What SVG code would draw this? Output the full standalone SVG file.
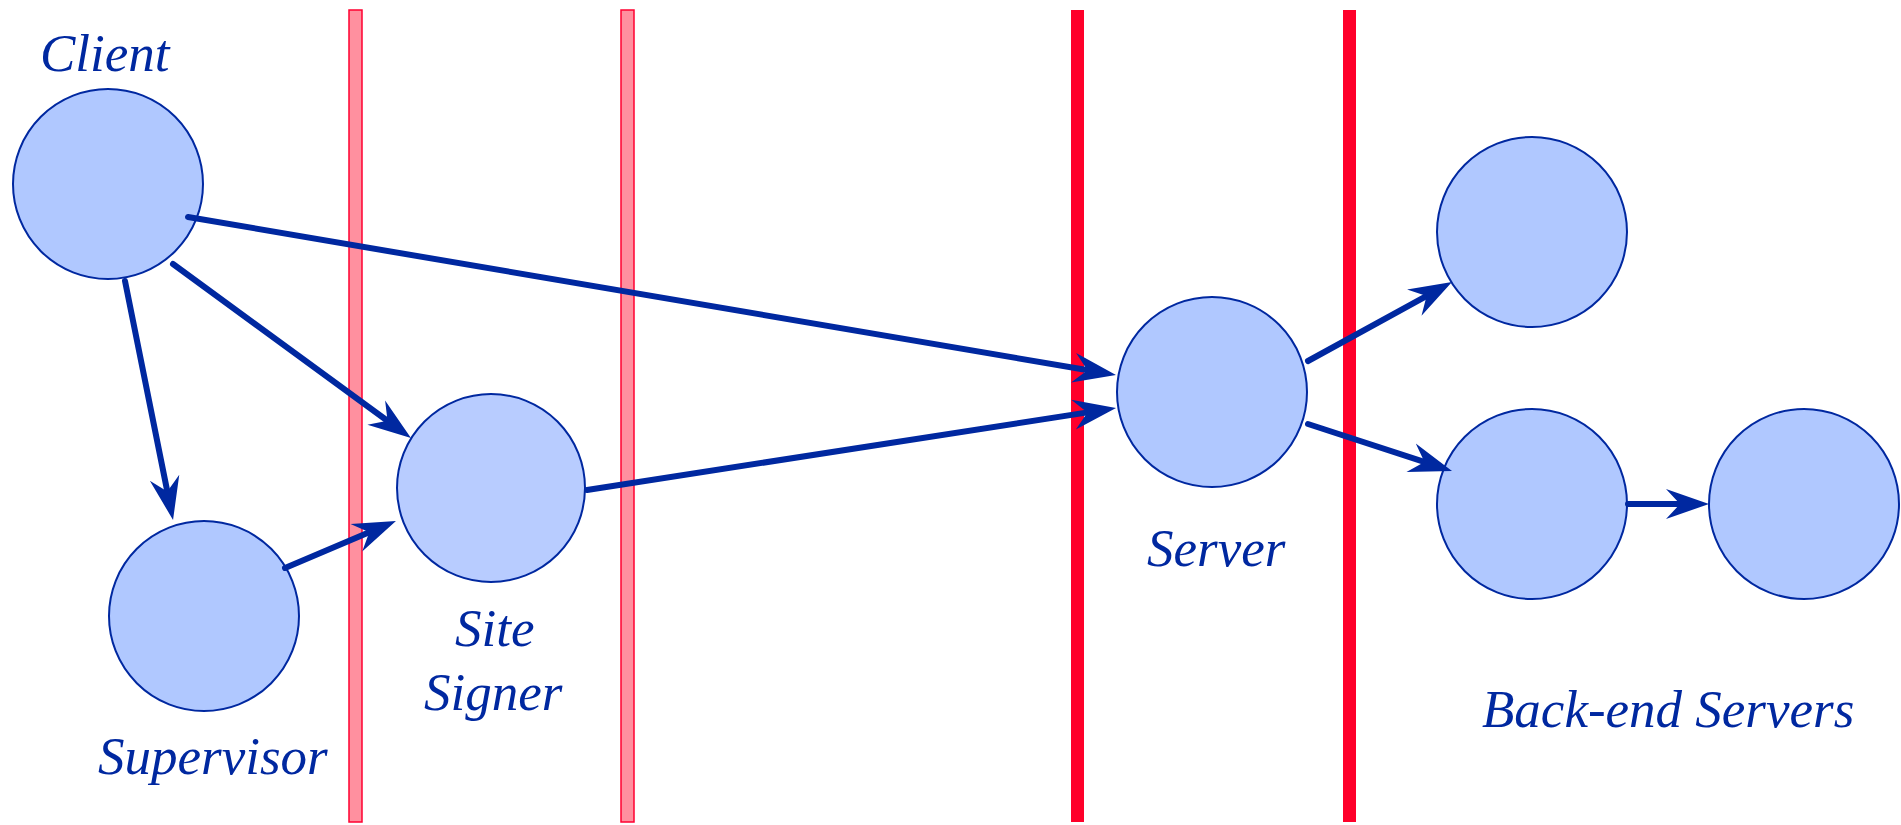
<svg xmlns="http://www.w3.org/2000/svg" width="1901" height="825" viewBox="0 0 1901 825">
<style>
.bar{fill:#ff909f;stroke:#ff0030;stroke-width:1.5}
.wall{fill:#ff002a}
.node{fill:#b0c8ff;stroke:#0028a0;stroke-width:2}
.lbl{font-family:"Liberation Serif","Times New Roman",serif;font-style:italic;font-size:53px;fill:#0028a0}
.edge{stroke:#0028a0;stroke-width:6;fill:none;stroke-linecap:round;marker-end:url(#ah)}
</style>
<defs>
<marker id="ah" markerUnits="userSpaceOnUse" markerWidth="50" markerHeight="32" refX="21" refY="15" orient="auto" overflow="visible">
<path d="M43,15 L0,0 L14,15 L0,30 Z" fill="#0028a0"/>
</marker>
</defs>
<rect width="1901" height="825" fill="#ffffff"/>
<g id="barriers">
<rect class="bar" x="349" y="10" width="13" height="812"/>
<rect class="bar" x="621" y="10" width="13" height="812"/>
<rect class="wall" x="1071" y="10" width="13" height="812"/>
<rect class="wall" x="1343" y="10" width="13" height="812"/>
</g>
<g id="client"><circle class="node" cx="108" cy="184" r="95"/><text class="lbl" x="40" y="71">Client</text></g>
<g id="supervisor"><circle class="node" cx="204" cy="616" r="95"/><text class="lbl" x="98" y="774">Supervisor</text></g>
<g id="sitesigner"><circle class="node" cx="491" cy="488" r="94" style="fill:#b8ccff"/><text class="lbl" x="455" y="646">Site</text><text class="lbl" x="424" y="710">Signer</text></g>
<g id="server"><circle class="node" cx="1212" cy="392" r="95"/><text class="lbl" x="1147" y="566">Server</text></g>
<g id="backend1"><circle class="node" cx="1532" cy="232" r="95"/></g>
<g id="backend2"><circle class="node" cx="1532" cy="504" r="95"/></g>
<g id="backend3"><circle class="node" cx="1804" cy="504" r="95"/><text class="lbl" x="1482" y="727">Back-end Servers</text></g>
<g id="connectors">
<path class="edge" d="M188,217 L1094.3,371.3"/>
<path class="edge" d="M173,264 L393.2,425"/>
<path class="edge" d="M125,281 L168.7,498.4"/>
<path class="edge" d="M285,568 L375.7,529.6"/>
<path class="edge" d="M587,490 L1094.3,411.4"/>
<path class="edge" d="M1308,361 L1432.7,292.6"/>
<path class="edge" d="M1308,424 L1431.1,464.2"/>
<path class="edge" d="M1628,504 L1687,504"/>
</g>
</svg>
